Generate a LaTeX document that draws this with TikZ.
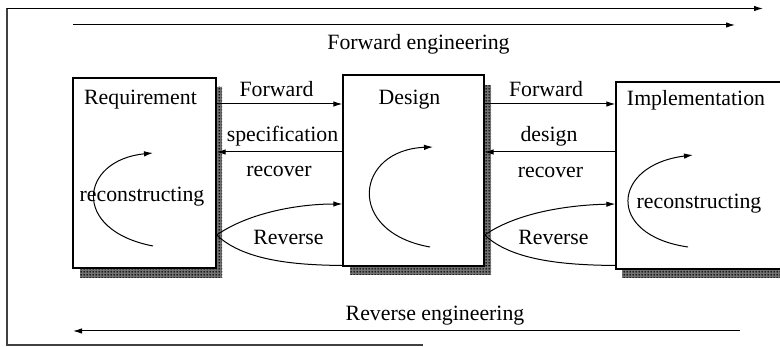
\documentclass[tikz,border=0pt]{standalone}
\usepackage{fontspec}
\setmainfont{Liberation Serif}
\usetikzlibrary{arrows.meta,patterns}
% fine dot raster used for the drop shadows of the boxes
\pgfdeclarepatternformonly{smalldots}{\pgfqpoint{-1pt}{-1pt}}{\pgfqpoint{2pt}{2pt}}{\pgfqpoint{3pt}{3pt}}{%
  \pgfpathcircle{\pgfqpoint{0.5pt}{0.5pt}}{1.1pt}\pgfusepath{fill}}
\begin{document}
\begin{tikzpicture}[x=1pt,y=-1pt,
  box/.style={draw,line width=1.3pt,fill=white,inner sep=0pt},
  shadowfill/.style={fill=black!55,postaction={pattern=smalldots,pattern color=black}},
  arr/.style={line width=1pt,-{Latex[length=9pt,width=5.5pt]}},
  plain/.style={line width=1pt},
  lbl/.style={font=\fontsize{21.8}{24}\selectfont,inner sep=0pt},
  ]
\useasboundingbox (0,0) rectangle (780,347);

% frame and the two long arrows
\coordinate (fBL) at (7,345);
\coordinate (fTL) at (7,8.5);
\coordinate (fTR) at (763,8.5);
\coordinate (fBR) at (423,345);
\draw[line width=1.2pt,black!75] (fBR) -- (fBL) -- (fTL);
\draw[arr] (fTL) -- (fTR);

\coordinate (fwS) at (73,25);
\coordinate (fwE) at (735,25);
\draw[arr] (fwS) -- (fwE);
\node[lbl] (fweng) at (418.5,44) {Forward engineering};

\coordinate (rvS) at (740,331);
\coordinate (rvE) at (73,331);
\draw[arr] (rvS) -- (rvE);
\node[lbl] (rveng) at (435,316) {Reverse engineering};

% shadows
\fill[shadowfill] (216,87) rectangle (222,278);
\fill[shadowfill] (80,268) rectangle (222,278);
\fill[shadowfill] (484,85) rectangle (491,275);
\fill[shadowfill] (350,266) rectangle (491,275);
\fill[shadowfill] (622,269) rectangle (800,278);

% boxes
\node[box,minimum width=143pt,minimum height=190pt] (req) at (144.5,173) {};
\node[box,minimum width=141pt,minimum height=191pt] (des) at (413.5,170.5) {};
\node[box,minimum width=184pt,minimum height=187pt] (imp) at (708,175.5) {};

\node[lbl] (reqT) at (140.5,100) {Requirement};
\node[lbl] (desT) at (409.5,100) {Design};
\node[lbl] (impT) at (696,100) {Implementation};

% rows of the connectors
\coordinate (yF) at (0,104);
\coordinate (yS) at (0,152);
\coordinate (yR) at (0,235);
\coordinate (yU) at (0,204);
\coordinate (yL) at (0,265.5);

% requirement <-> design
\draw[arr] (req.east |- yF) -- (des.west |- yF);
\node[lbl] (fw1) at (276.5,89) {Forward};
\draw[arr] (des.west |- yS) -- (req.east |- yS);
\node[lbl] (sp1) at (282.5,136) {specification};
\node[lbl] (rc1) at (279,171) {recover};
\draw[arr] (req.east |- yR) .. controls (250,212) and (300,204) .. (des.west |- yU);
\draw[plain] (req.east |- yR) .. controls (245,262) and (300,265) .. (des.west |- yL);
\node[lbl] (rv1) at (288.5,237) {Reverse};

% design <-> implementation
\draw[arr] (des.east |- yF) -- (imp.west |- yF);
\node[lbl] (fw2) at (546,89) {Forward};
\draw[arr] (imp.west |- yS) -- (des.east |- yS);
\node[lbl] (dg2) at (549,136) {design};
\node[lbl] (rc2) at (550.5,172) {recover};
\draw[arr] (des.east |- yR) .. controls (518,212) and (570,205) .. (imp.west |- yU);
\draw[plain] (des.east |- yR) .. controls (513,262) and (570,265) .. (imp.west |- yL);
\node[lbl] (rv2) at (553.5,237) {Reverse};

% reconstructing loops
\coordinate (a1s) at (153,246);
\coordinate (a1e) at (153,153);
\draw[arr] (a1s) .. controls (70,230) and (80,160) .. (a1e);
\node[lbl] (rs1) at (142,197) {reconstructing};

\coordinate (a2s) at (430,247);
\coordinate (a2e) at (433,147);
\draw[arr] (a2s) .. controls (345,232) and (355,150) .. (a2e);

\coordinate (a3s) at (688,247);
\coordinate (a3e) at (693,155);
\draw[arr] (a3s) .. controls (605,235) and (612,165) .. (a3e);
\node[lbl] (rs3) at (699,204) {reconstructing};
\end{tikzpicture}
\end{document}
